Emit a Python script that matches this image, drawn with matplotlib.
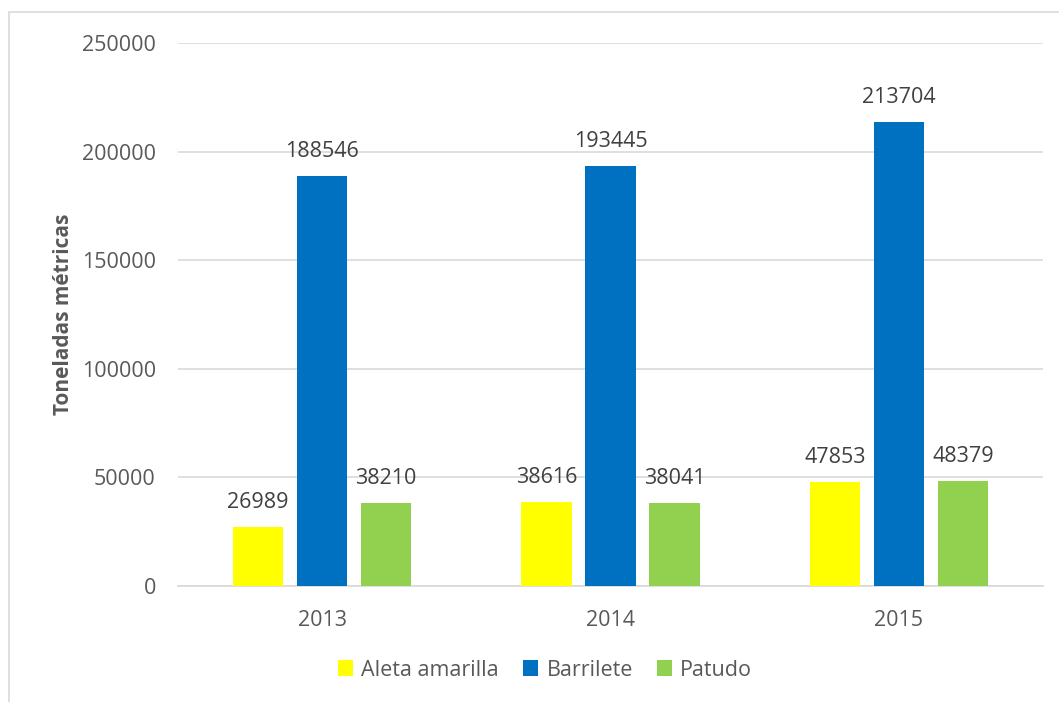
import matplotlib
matplotlib.use("Agg")
import matplotlib.pyplot as plt
import numpy as np
from matplotlib.patches import Rectangle

years = ["2013", "2014", "2015"]
series_names = ["Aleta amarilla", "Barrilete", "Patudo"]
aleta = [26989, 38616, 47853]
barrilete = [188546, 193445, 213704]
patudo = [38210, 38041, 48379]
colors = ["#FFFF00", "#0070C0", "#92D050"]
yticks = [0, 50000, 100000, 150000, 200000, 250000]

plt.rcParams['font.family'] = ['Open Sans', 'DejaVu Sans']
txt = "#595959"

fig = plt.figure(figsize=(10.59, 7.02), dpi=100)
W, H = 1059, 702
ax = fig.add_axes([178 / W, 1 - 586 / H, 865 / W, (586 - 43) / H])

# figure border
fig.patches.append(Rectangle((9 / W, -0.1), 1.2, 1.1 - 12 / H, transform=fig.transFigure,
                             fill=False, edgecolor="#D9D9D9", linewidth=1.2))

x = np.arange(len(years))
bw = 0.174
step = 0.222
for i, (vals, name, c) in enumerate(zip([aleta, barrilete, patudo], series_names, colors)):
    pos = x + (i - 1) * step
    ax.bar(pos, vals, width=bw, color=c, label=name, zorder=3)
    for p, v in zip(pos, vals):
        ax.text(p, v + 6500, str(v), ha="center", va="bottom", fontsize=15.5, color="#404040")

ax.set_xlim(-0.5, 2.5)
ax.set_ylim(0, 250000)
ax.set_yticks(yticks)
ax.set_yticklabels([str(t) for t in yticks])
ax.set_xticks(x)
ax.set_xticklabels(years)
ax.tick_params(axis="both", length=0, labelsize=15.5, labelcolor=txt)
ax.tick_params(axis="y", pad=16)
ax.tick_params(axis="x", pad=17)
ax.grid(axis="y", color="#D9D9D9", linewidth=1.2, zorder=0)
for s in ["top", "right", "left"]:
    ax.spines[s].set_visible(False)
ax.spines["bottom"].set_color("#D9D9D9")
ax.spines["bottom"].set_linewidth(1.2)
ax.set_ylabel("Toneladas métricas", fontsize=15, fontweight="bold", color=txt)
ax.yaxis.set_label_coords(-104 / 865, 0.5)

fig.legend(loc="center", bbox_to_anchor=(545 / W, 1 - 670 / H), ncol=3, frameon=False,
           fontsize=15.5, handlelength=0.7, handleheight=0.7, handletextpad=0.4,
           columnspacing=1.1, labelcolor=txt)

fig.savefig("out.png", dpi=100)
